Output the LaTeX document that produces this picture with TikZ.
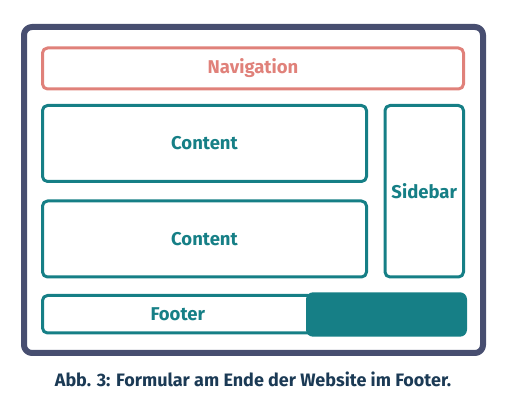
\documentclass[tikz,border=0pt]{standalone}
\usepackage{fontspec}
\setmainfont{Fira Sans}
\usepackage{tikz}
\usetikzlibrary{positioning}
\definecolor{framecol}{HTML}{474E70}
\definecolor{tealcol}{HTML}{167F86}
\definecolor{navcol}{HTML}{E0817A}
\definecolor{captioncol}{HTML}{1B3A55}
\tikzset{block/.style={draw=tealcol, line width=3bp, rounded corners=5bp, inner sep=0pt, text=tealcol, font=\bfseries\fontsize{18.5bp}{21bp}\selectfont}}
\tikzset{baseline=(current bounding box.center)}

\begin{document}
\begin{tikzpicture}[line join=round]
%%
\useasboundingbox (0bp,0bp) rectangle (506bp,410bp);
  \node (frame) at (253.5bp,220.0bp) [draw=framecol,line width=6bp,rounded corners=8bp,minimum width=459bp,minimum height=326bp] {};
  \node (nav) at (253.0bp,341.5bp) [block,draw=navcol,text=navcol,minimum width=421bp,minimum height=41bp] {Navigation};
  \node (content1) at (204.5bp,266.5bp) [block,minimum width=324bp,minimum height=76bp] {Content};
  \node (content2) at (204.5bp,171.0bp) [block,minimum width=324bp,minimum height=76bp] {Content};
  \node (sidebar) at (424.25bp,218.75bp) [block,minimum width=78.5bp,minimum height=171.5bp] {Sidebar};
  \node (footer) at (177.75bp,95.75bp) [block,minimum width=270.5bp,minimum height=37.5bp] {Footer};
  \node (form) at (386.5bp,95.5bp) [fill=tealcol,rounded corners=7bp,minimum width=161bp,minimum height=44.4bp] {};
  \draw (253.0bp,30.5bp) node (caption) [text=captioncol,font=\bfseries\fontsize{18bp}{21bp}\selectfont] {Abb. 3: Formular am Ende der Website im Footer.};
%
\end{tikzpicture}
\end{document}
